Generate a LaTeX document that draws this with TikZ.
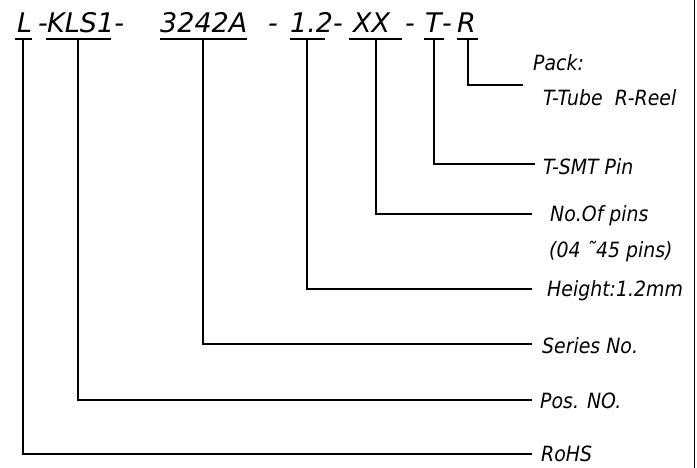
\documentclass[tikz,border=0pt]{standalone}
\usepackage{fontspec}
\newfontfamily\cadtop{DejaVu Sans Oblique}
\newfontfamily\cad{DejaVu Sans Oblique}[FakeStretch=0.9]
\begin{document}
\begin{tikzpicture}[x=1pt,y=-1pt,
  ln/.style={line width=1.2pt,black},
  code/.style={anchor=base west,inner sep=0pt,font=\cadtop\fontsize{27}{30}\selectfont},
  lbl/.style={anchor=base west,inner sep=0pt,font=\cad\fontsize{21}{24}\selectfont}]
\useasboundingbox (0,0) rectangle (697,468);
% top code
\node[code] (cL) at (17,33) {L};
\node[code] (d1) at (38,33) {-};
\node[code] (cK) at (47,33) {KLS1-};
\node[code] (cS) at (160,33) {3242A};
\node[code] (d2) at (268,33) {-};
\node[code] (cH) at (290,33) {1.2-};
\node[code] (cX) at (353,33) {XX};
\node[code] (d3) at (405,33) {-};
\node[code] (cT) at (425,33) {T};
\node[code] (d4) at (442,33) {-};
\node[code] (cR) at (457,33) {R};
% underlines
\draw[ln] (15,39) -- (32,39);
\draw[ln] (46,39) -- (111,39);
\draw[ln] (160,39) -- (247,39);
\draw[ln] (290,39) -- (325,39);
\draw[ln] (349,39) -- (402,39);
\draw[ln] (424,39) -- (444,39);
\draw[ln] (457,39) -- (478,39);
% top anchors of connectors
\coordinate (uL) at (23,39);
\coordinate (uK) at (78,39);
\coordinate (uS) at (203,39);
\coordinate (uH) at (307,39);
\coordinate (uX) at (376,39);
\coordinate (uT) at (434,39);
\coordinate (uR) at (468,39);
% line ends
\coordinate (eL) at (532,454);
\coordinate (eK) at (532,400);
\coordinate (eS) at (532,344);
\coordinate (eH) at (532,289);
\coordinate (eX) at (532,214);
\coordinate (eT) at (535,164);
\coordinate (eR) at (523,85);
% labels
\node[lbl] (pack) at (533,71) {Pack:};
\node[lbl] (tube) at (543,106) {T-Tube\ \ R-Reel};
\node[lbl] (smt) at (543,175) {T-SMT Pin};
\node[lbl] (nop) at (550,222) {No.Of pins};
\node[lbl] (rng) at (549,258) {(04 ˜45 pins)};
\node[lbl] (hgt) at (547,296) {Height:1.2mm};
\node[lbl] (ser) at (542,353) {Series No.};
\node[lbl] (pos) at (540,408) {Pos. NO.};
\node[lbl] (rohs) at (541,461) {RoHS};
% connectors
\draw[ln] (uL) |- (eL);
\draw[ln] (uK) |- (eK);
\draw[ln] (uS) |- (eS);
\draw[ln] (uH) |- (eH);
\draw[ln] (uX) |- (eX);
\draw[ln] (uT) |- (eT);
\draw[ln] (uR) |- (eR);
% right border
\coordinate (bt) at (694.5,0);
\coordinate (bb) at (694.5,468);
\draw[ln] (bt) -- (bb);
\end{tikzpicture}
\end{document}
